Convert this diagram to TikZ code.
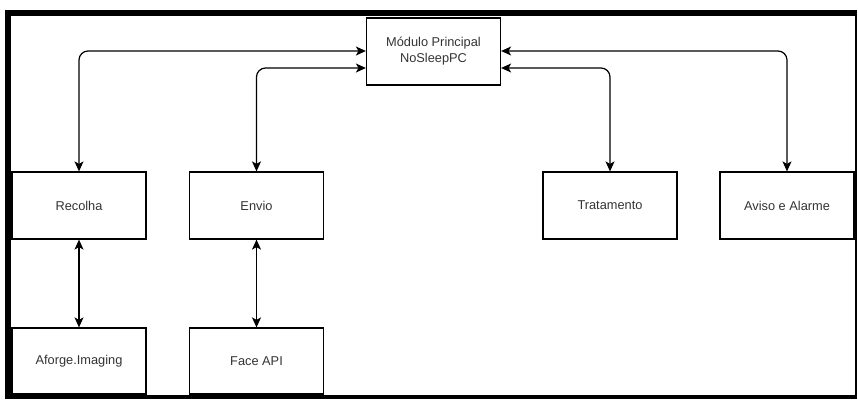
\documentclass[tikz,border=0pt]{standalone}
\usepackage{fontspec}
\setmainfont{Liberation Sans}
\usetikzlibrary{arrows.meta}
\begin{document}
\begin{tikzpicture}[x=1pt,y=-1pt,
  box/.style={draw, line width=1.2pt, minimum width=134pt, minimum height=67pt, inner sep=0pt,
    align=center, text=black!80, font=\fontsize{12.8}{16}\selectfont},
  link/.style={line width=1.2pt, rounded corners=9pt,
    {Stealth[length=10pt,width=9pt,inset=2.5pt]}-{Stealth[length=10pt,width=9pt,inset=2.5pt]}}]
\useasboundingbox (0,0) rectangle (858,399);
% frame
\fill[black] (5,10) rectangle (857,16);
\fill[black] (5,10) rectangle (11,399);
\fill[black] (5,394.5) rectangle (857,399);
\fill[black] (854.5,10) rectangle (857,399);
% nodes
\node[box] (main) at (433.5,51.5) {Módulo Principal\\NoSleepPC};
\node[box] (rec) at (79,205.5) {Recolha};
\node[box] (env) at (256.5,205.5) {Envio};
\node[box] (tra) at (610,205.5) {Tratamento};
\node[box] (avi) at (787,205.5) {Aviso e Alarme};
\node[box, minimum height=66pt] (afo) at (79,361) {Aforge.Imaging};
\node[box, minimum height=66pt] (face) at (256.5,361) {Face API};
% connectors
\draw[link] ([yshift=0.5pt]main.west) -| (rec.north);
\draw[link] ([yshift=-16.5pt]main.west) -| (env.north);
\draw[link] ([yshift=0.5pt]main.east) -| (avi.north);
\draw[link] ([yshift=-16.5pt]main.east) -| (tra.north);
\draw[link] (rec.south) -- (afo.north);
\draw[link] (env.south) -- (face.north);
\end{tikzpicture}
\end{document}
